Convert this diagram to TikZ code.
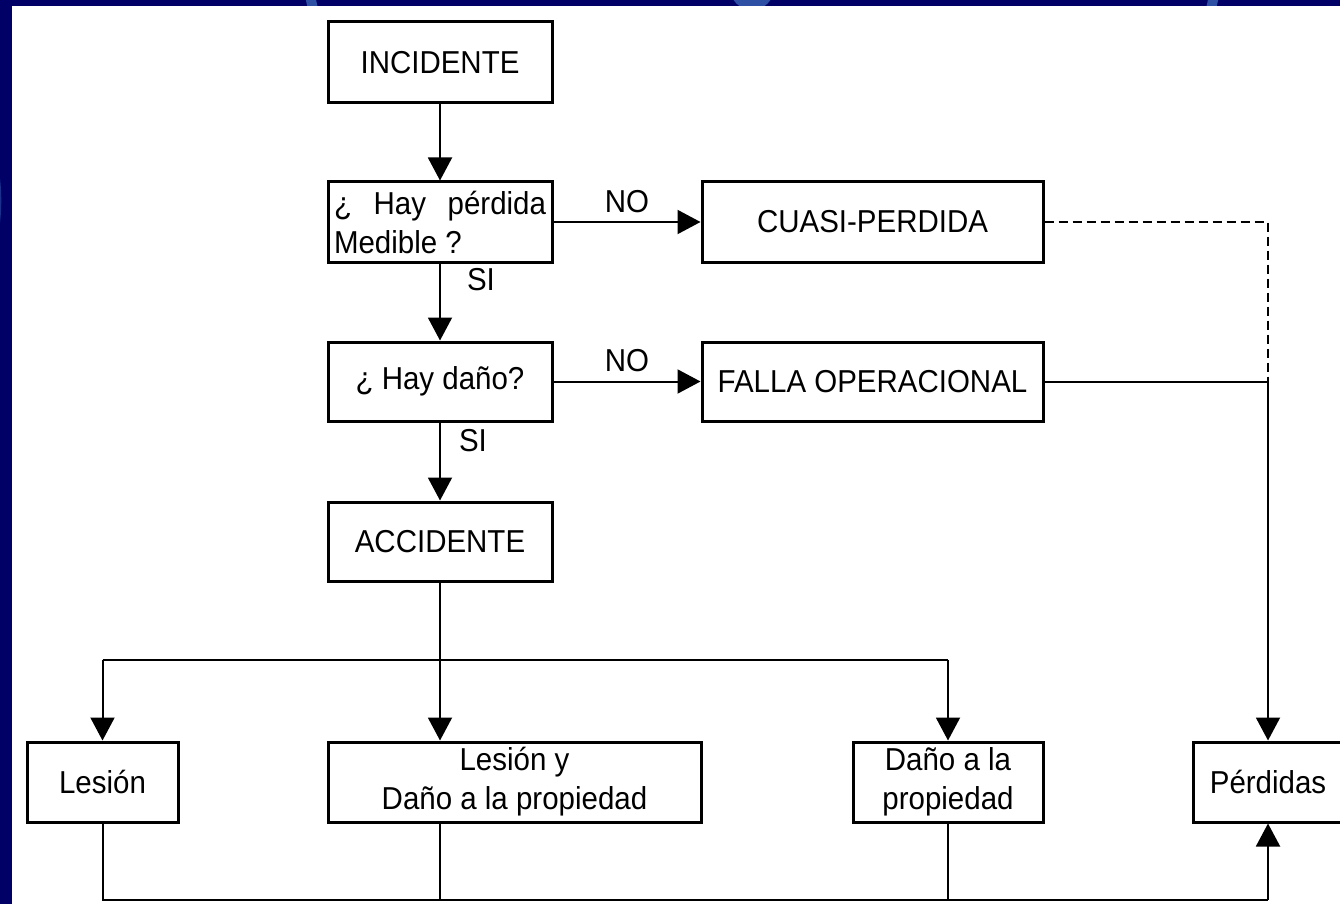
\documentclass[tikz,border=0pt]{standalone}
\usepackage{fontspec}
\setmainfont{Liberation Sans}[FakeStretch=0.93]
\usetikzlibrary{arrows.meta,calc}
\definecolor{navy}{RGB}{0,0,102}
\definecolor{navylight}{RGB}{45,80,165}
\begin{document}
\begin{tikzpicture}[x=1pt,y=-1pt,
  box/.style={draw=black,line width=3pt,fill=white,rectangle,inner sep=0pt,
    font=\fontsize{31.7}{39}\selectfont,align=center},
  lbl/.style={font=\fontsize{31.7}{36}\selectfont,inner sep=0pt},
  conn/.style={draw=black,line width=2pt},
  arr/.style={conn,-{Triangle[length=23pt,width=24pt]}}]
\useasboundingbox (0,0) rectangle (1340,904);
% background
\fill[navy] (0,0) rectangle (1340,904);
\begin{scope}
\clip (0,0) rectangle (1340,904);
\draw[navylight,line width=10pt] (762,-40) ellipse (455pt and 300pt);
\fill[navylight] (752,-12) circle (22pt);
\draw[navylight!60!navy,line width=6pt] (-60,60) .. controls (14,140) and (14,240) .. (-40,320);
\end{scope}
\fill[white] (12,6) rectangle (1340,904);
% nodes
\node[box,minimum width=224pt,minimum height=81pt] (inc) at (440,62.5) {INCIDENTE};
\node[box,minimum width=224pt,minimum height=80pt] (q1) at (440,222)
  {\parbox{212pt}{\raggedright ¿\hfill Hay\hfill pérdida\par Medible ?}};
\node[box,minimum width=341pt,minimum height=80pt] (cuasi) at (872.5,222) {CUASI-PERDIDA};
\node[box,minimum width=224pt,minimum height=79pt] (q2) at (440,381.5) {¿ Hay daño?};
\node[box,minimum width=341pt,minimum height=79pt] (falla) at (872.5,381.5) {FALLA OPERACIONAL};
\node[box,minimum width=224pt,minimum height=79pt] (acc) at (440,541.5) {ACCIDENTE};
\node[box,minimum width=151pt,minimum height=80pt] (les) at (102.5,782) {Lesión};
\node[box,minimum width=373pt,minimum height=80pt] (lesd) at (514.5,782) {Lesión y\\Daño a la propiedad};
\node[box,minimum width=190pt,minimum height=80pt] (dano) at (948,782) {Daño a la\\propiedad};
\node[box,minimum width=150pt,minimum height=80pt] (perd) at (1268,782) {Pérdidas};
% labels
\node[lbl,anchor=base] (no1) at (627,212) {NO};
\node[lbl,anchor=base] (no2) at (627,371) {NO};
\node[lbl,anchor=base] (si1) at (481,290) {SI};
\node[lbl,anchor=base] (si2) at (473,451) {SI};
% helper coordinates
\coordinate (br) at (0,660);
\coordinate (bot) at (0,900);
\coordinate (j) at (perd.north |- falla.east);
% connectors
\draw[arr] (inc.south) -- (q1.north);
\draw[arr] (q1.south) -- (q2.north);
\draw[arr] (q2.south) -- (acc.north);
\draw[arr] (q1.east) -- (cuasi.west);
\draw[arr] (q2.east) -- (falla.west);
\draw[conn,dashed,dash pattern=on 9pt off 5pt,line width=2.5pt] (cuasi.east) -| (j);
\draw[conn] (falla.east) -- (j);
\draw[arr] (j) -- (perd.north);
\draw[conn] (acc.south) -- (acc.south |- br);
\draw[conn] (les.north |- br) -- (dano.north |- br);
\draw[arr] (les.north |- br) -- (les.north);
\draw[arr] (acc.south |- br) -- (acc.south |- lesd.north);
\draw[arr] (dano.north |- br) -- (dano.north);
\draw[conn] (les.south) -- (les.south |- bot) -- (perd.south |- bot);
\draw[conn] (acc.south |- lesd.south) -- (acc.south |- bot);
\draw[conn] (dano.south) -- (dano.south |- bot);
\draw[arr] (perd.south |- bot) -- (perd.south);
\end{tikzpicture}
\end{document}
